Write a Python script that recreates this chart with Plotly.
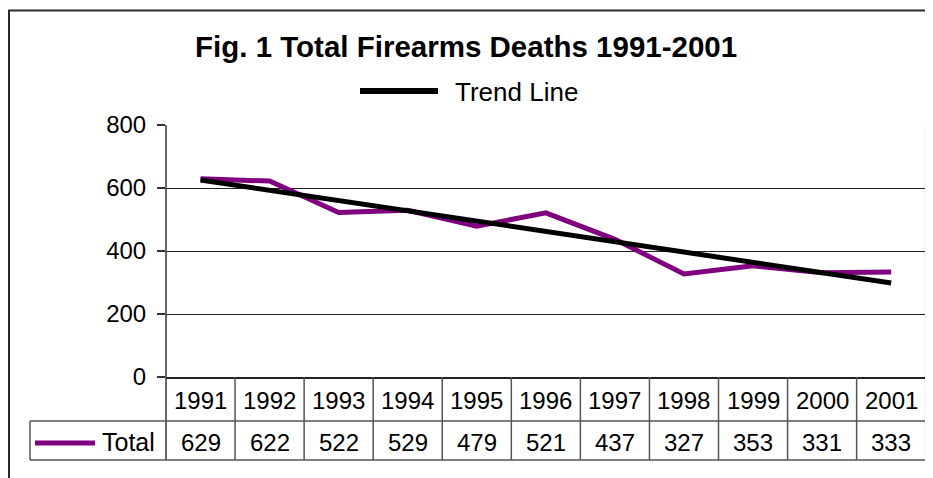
import numpy as np
import plotly.graph_objects as go

years = ["1991", "1992", "1993", "1994", "1995", "1996", "1997", "1998", "1999", "2000", "2001"]
totals = [629, 622, 522, 529, 479, 521, 437, 327, 353, 331, 333]
y_ticks = [0, 200, 400, 600, 800]
series_name = "Total"
trend_name = "Trend Line"
title_text = "Fig. 1 Total Firearms Deaths 1991-2001"

W, H = 933, 478
OFF = 8  # page body margin
FONT = "Liberation Sans, Arial, sans-serif"


def px(x):
    return (x - OFF) / W


def py(y):
    return (H - (y - OFF)) / H


xs = list(range(len(years)))
coef = np.polyfit(xs, totals, 1)
trend = list(np.polyval(coef, xs))

fig = go.Figure()
fig.add_trace(go.Scatter(x=xs, y=totals, mode="lines", name=series_name,
                         line=dict(color="#800080", width=5), showlegend=False))
fig.add_trace(go.Scatter(x=xs, y=trend, mode="lines", name=trend_name,
                         line=dict(color="#000000", width=5), showlegend=False))

PLOT_L, PLOT_R, PLOT_T, PLOT_B = 166, 925.7, 125, 377
ROW1_B, ROW2_B = 421, 460

shapes = []
line_col = "#555555"
# outer chart border
shapes.append(dict(type="rect", xref="paper", yref="paper",
                   x0=px(9), x1=px(950), y0=py(10.5), y1=py(500),
                   line=dict(color="#2a2a2a", width=2), fillcolor="rgba(0,0,0,0)", layer="below"))
# y-axis line extended through the table
shapes.append(dict(type="line", xref="paper", yref="paper",
                   x0=px(PLOT_L), x1=px(PLOT_L), y0=py(PLOT_T), y1=py(ROW2_B),
                   line=dict(color="#333333", width=1.5)))
# right border extended through the table
shapes.append(dict(type="line", xref="paper", yref="paper",
                   x0=px(PLOT_R), x1=px(PLOT_R), y0=py(PLOT_T), y1=py(ROW2_B),
                   line=dict(color="#222222", width=1.5)))
# table horizontals
for yy in (ROW1_B, ROW2_B):
    shapes.append(dict(type="line", xref="paper", yref="paper",
                       x0=px(30), x1=px(PLOT_R), y0=py(yy), y1=py(yy),
                       line=dict(color=line_col, width=1.5)))
# total label cell left border
shapes.append(dict(type="line", xref="paper", yref="paper",
                   x0=px(30), x1=px(30), y0=py(ROW1_B), y1=py(ROW2_B),
                   line=dict(color=line_col, width=1.5)))
# column separators
for k in range(1, len(years)):
    shapes.append(dict(type="line", xref="x", yref="paper",
                       x0=k - 0.5, x1=k - 0.5, y0=py(PLOT_B), y1=py(ROW2_B),
                       line=dict(color=line_col, width=1.5)))
# legend key for series in table
shapes.append(dict(type="line", xref="paper", yref="paper",
                   x0=px(35), x1=px(95), y0=py(443), y1=py(443),
                   line=dict(color="#800080", width=5)))
# legend key for trend line
shapes.append(dict(type="line", xref="paper", yref="paper",
                   x0=px(360), x1=px(438), y0=py(91), y1=py(91),
                   line=dict(color="#000000", width=6)))

annotations = []
annotations.append(dict(text="<b>" + title_text + "</b>", xref="paper", yref="paper",
                        x=px(466), y=py(46), xanchor="center", yanchor="middle",
                        showarrow=False, font=dict(family=FONT, size=29.5, color="#000")))
annotations.append(dict(text=trend_name, xref="paper", yref="paper",
                        x=px(453), y=py(92), xanchor="left", yanchor="middle",
                        showarrow=False, font=dict(family=FONT, size=26, color="#000")))
annotations.append(dict(text=series_name, xref="paper", yref="paper",
                        x=px(157), y=py(442), xanchor="right", yanchor="middle",
                        showarrow=False, font=dict(family=FONT, size=25, color="#000")))
for i, (yr, v) in enumerate(zip(years, totals)):
    annotations.append(dict(text=yr, xref="x", yref="paper", x=i, y=py(400),
                            xanchor="center", yanchor="middle", showarrow=False,
                            font=dict(family=FONT, size=24, color="#000")))
    annotations.append(dict(text=str(v), xref="x", yref="paper", x=i, y=py(442),
                            xanchor="center", yanchor="middle", showarrow=False,
                            font=dict(family=FONT, size=24, color="#000")))

fig.update_layout(
    width=W, height=H,
    margin=dict(l=0, r=0, t=0, b=0, autoexpand=False),
    paper_bgcolor="white", plot_bgcolor="white",
    shapes=shapes, annotations=annotations,
    xaxis=dict(domain=[px(PLOT_L), px(PLOT_R)], range=[-0.5, len(years) - 0.5],
               showgrid=False, zeroline=False, showticklabels=False, ticks="",
               showline=True, linecolor="#222222", linewidth=1.5, fixedrange=True,
               automargin=False),
    yaxis=dict(domain=[py(PLOT_B), py(PLOT_T)], range=[0, 800],
               tickvals=y_ticks, ticktext=[str(t) for t in y_ticks],
               ticks="outside", ticklen=8, tickwidth=1.5, tickcolor="#333333",
               showgrid=True, gridcolor="#222222", gridwidth=1.2,
               zeroline=False, showline=False,
               tickfont=dict(family=FONT, size=24, color="#000"),
               ticklabelstandoff=6, fixedrange=True, automargin=False),
    showlegend=False,
)

fig.write_html("out.html")
